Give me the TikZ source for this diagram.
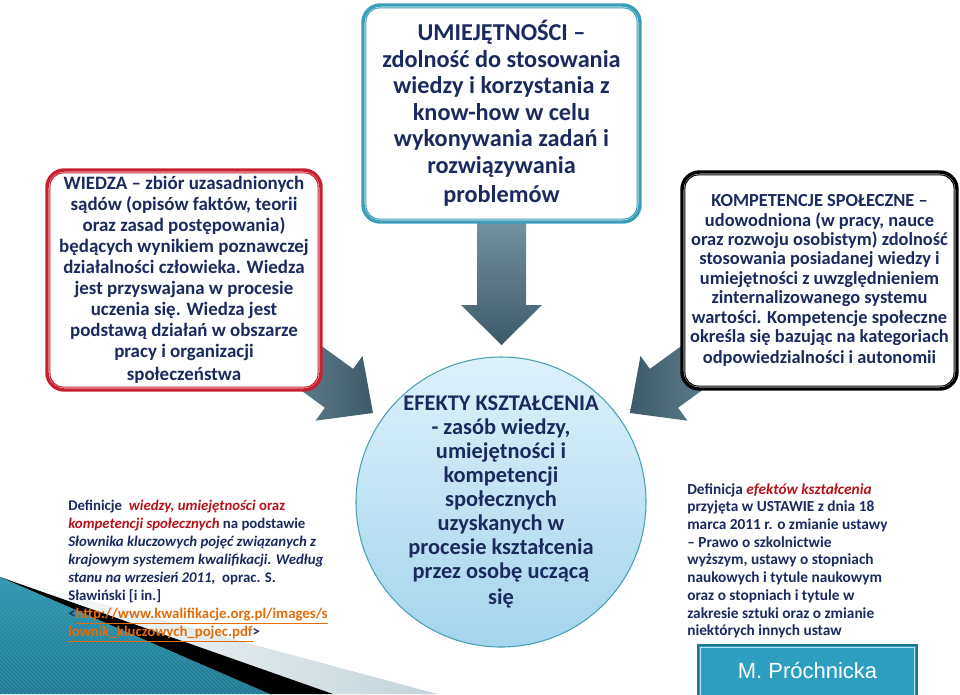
\documentclass[tikz,border=0pt]{standalone}
\usepackage{fontspec}
\setmainfont{Carlito}
\newfontfamily\arialf{Liberation Sans}
\usetikzlibrary{calc,patterns}
\definecolor{navy}{HTML}{1B2A5E}
\definecolor{redb}{HTML}{C8202F}
\definecolor{tealb}{HTML}{3A9EB8}
\definecolor{arrl}{HTML}{7595A2}
\definecolor{arrd}{HTML}{3D5A68}
\definecolor{circt}{HTML}{DDF1FA}
\definecolor{circb}{HTML}{A4D5EE}
\definecolor{circe}{HTML}{4A9FB2}
\definecolor{textred}{HTML}{B5121B}
\definecolor{orng}{HTML}{E36C0A}
\definecolor{btnf}{HTML}{2C9FC0}
\definecolor{btnd}{HTML}{1B7590}
\definecolor{decteal}{HTML}{1F7A92}
\definecolor{decteall}{HTML}{2F98B2}
\definecolor{decgray}{HTML}{C3D4DA}
\tikzset{
  infobox/.style={rectangle, rounded corners=13pt, fill=white, line width=2.6pt,
    align=center, text=navy, inner sep=0pt},
  innerline/.style={line width=0.8pt, rounded corners=10pt},
}
\begin{document}
\begin{tikzpicture}[x=0.75pt, y=-0.75pt]
\useasboundingbox (0,0) rectangle (960,694);

% bottom-left decoration
\fill[decgray, left color=white, right color=decgray] (0,577) -- (437,694) -- (333,694) -- cycle;
\shade[top color=decteall, bottom color=decteal] (0,577) -- (270,694) -- (0,694) -- cycle;
\fill[pattern=north west lines, pattern color=decteall!70!white, opacity=0.35] (0,577) -- (270,694) -- (0,694) -- cycle;
\fill[black] (0,577) -- (333,694) -- (270,694) -- cycle;

% block arrows
\coordinate (tipc) at (501.5,345);
\coordinate (tipl) at (373,413);
\coordinate (tipr) at (630,413);
\shade[top color=arrl, bottom color=arrd] (477,215) -- (526,215) -- (526,305) -- (542,305) -- (tipc) -- (461,305) -- (477,305) -- cycle;
\begin{scope}[shift={(tipl)}, rotate=-36]
  \shade[left color=arrl, right color=arrd] (0,0) -- (-42,40) -- (-42,24) -- (-150,24) -- (-150,-24) -- (-42,-24) -- (-42,-40) -- cycle;
\end{scope}
\begin{scope}[shift={(tipr)}, rotate=-144]
  \shade[left color=arrd, right color=arrl] (0,0) -- (-42,40) -- (-42,24) -- (-150,24) -- (-150,-24) -- (-42,-24) -- (-42,-40) -- cycle;
\end{scope}

% WIEDZA
\node[infobox, draw=redb, minimum width=205.5pt, minimum height=165pt,
  font=\bfseries\fontsize{14.2}{15.75}\selectfont] (wiedza) at (184,280)
  {WIEDZA – zbiór uzasadnionych\\ sądów (opisów faktów, teorii\\ oraz zasad postępowania)\\
   będących wynikiem poznawczej\\ działalności człowieka. Wiedza\\ jest przyswajana w procesie\\
   uczenia się. Wiedza jest\\ podstawą działań w obszarze\\ pracy i organizacji\\[1pt] społeczeństwa};
\draw[innerline, redb] ([shift={(3.5pt,-3.5pt)}]wiedza.north west) rectangle ([shift={(-3.5pt,3.5pt)}]wiedza.south east);

% UMIEJETNOSCI
\node[infobox, draw=tealb, minimum width=207.75pt, minimum height=162.75pt,
  font=\bfseries\fontsize{18.2}{19.9}\selectfont] (umiej) at (501.5,113.5)
  {UMIEJĘTNOŚCI –\\ zdolność do stosowania\\ wiedzy i korzystania z\\ know-how w celu\\
   wykonywania zadań i\\ rozwiązywania\\[2pt] problemów};
\draw[innerline, tealb] ([shift={(3.5pt,-3.5pt)}]umiej.north west) rectangle ([shift={(-3.5pt,3.5pt)}]umiej.south east);

% KOMPETENCJE
\node[infobox, draw=black, minimum width=206.25pt, minimum height=162.75pt,
  font=\bfseries\fontsize{13.8}{14.6}\selectfont] (komp) at (819.5,280.5)
  {KOMPETENCJE SPOŁECZNE –\\ udowodniona (w pracy, nauce\\ oraz rozwoju osobistym) zdolność\\
   stosowania posiadanej wiedzy i\\ umiejętności z uwzględnieniem\\ zinternalizowanego systemu\\
   wartości. Kompetencje społeczne\\ określa się bazując na kategoriach\\[1pt] odpowiedzialności i autonomii};
\draw[innerline, black] ([shift={(3.5pt,-3.5pt)}]komp.north west) rectangle ([shift={(-3.5pt,3.5pt)}]komp.south east);

% EFEKTY circle
\node[circle, minimum size=217.5pt, inner sep=0pt, top color=circt, bottom color=circb,
  draw=circe, line width=0.8pt, align=center, text=navy,
  font=\bfseries\fontsize{16.8}{18}\selectfont] (efekty) at (501,502)
  {EFEKTY KSZTAŁCENIA\\ - zasób wiedzy,\\ umiejętności i\\ kompetencji\\ społecznych\\
   uzyskanych w\\ procesie kształcenia\\ przez osobę uczącą\\[2pt] się};

% bottom-left source text
\node[anchor=north west, inner sep=0pt, align=left, text=navy,
  font=\bfseries\fontsize{11.1}{13.5}\selectfont] (defl) at (68,500)
  {Definicje \ \textcolor{textred}{\textit{wiedzy, umiejętności} oraz}\\
   \textcolor{textred}{\textit{kompetencji społecznych}} na podstawie\\
   \textit{Słownika kluczowych pojęć związanych z}\\
   \textit{krajowym systemem kwalifikacji. Według}\\
   \textit{stanu na wrzesień 2011,} \ oprac. S.\\
   Sławiński [i in.]\\
   <\textcolor{orng}{\underline{http://www.kwalifikacje.org.pl/images/s}}\\
   \textcolor{orng}{\underline{lownik\_kluczowych\_pojec.pdf}}>};

% bottom-right text
\node[anchor=north west, inner sep=0pt, align=left, text=navy,
  font=\bfseries\fontsize{11.5}{13.3}\selectfont] (defr) at (687,483)
  {Definicja \textcolor{textred}{\textit{efektów kształcenia}}\\
   przyjęta w USTAWIE z dnia 18\\
   marca 2011 r. o zmianie ustawy\\
   – Prawo o szkolnictwie\\
   wyższym, ustawy o stopniach\\
   naukowych i tytule naukowym\\
   oraz o stopniach i tytule w\\
   zakresie sztuki oraz o zmianie\\
   niektórych innych ustaw};

% author box
\node[rectangle, fill=btnf, draw=btnd, line width=1.5pt, minimum width=164.25pt,
  minimum height=40.5pt, inner sep=0pt] (authbox) at (807.5,672) {};
\draw[white!70!btnf, line width=0.6pt] ([shift={(2.5pt,-2.5pt)}]authbox.north west) rectangle ([shift={(-2.5pt,2.5pt)}]authbox.south east);
\node[text=white, font=\arialf\fontsize{16.5}{18}\selectfont, inner sep=0pt] (auth) at (807.5,670) {M. Próchnicka};
\end{tikzpicture}
\end{document}
